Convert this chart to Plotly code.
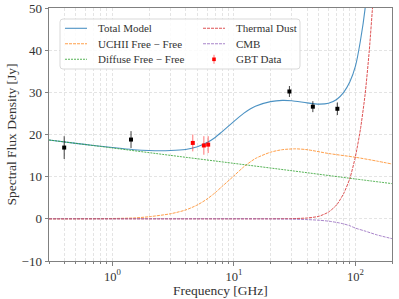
import plotly.graph_objects as go

# ---- data ----
freq_total = [0.3, 0.5, 0.7, 1, 1.5, 2, 3, 4, 5, 6, 7, 8, 10, 12, 15, 20, 25, 30, 40, 50, 60, 70, 80, 90, 100, 110, 120, 130]
s_total = [18.7, 17.9, 17.4, 16.9, 16.4, 16.2, 16.2, 16.45, 17.1, 18.1, 19.3, 20.7, 23.1, 25.0, 26.7, 27.8, 28.1, 28.0, 27.5, 27.2, 27.4, 28.3, 30.0, 32.5, 36.2, 42.3, 49.8, 61.0]

freq_uchii = [0.3, 0.5, 1, 1.5, 2, 3, 4, 5, 6, 7, 8, 10, 12, 15, 20, 25, 32, 40, 60, 100, 150, 200]
s_uchii = [0.0, 0.02, 0.08, 0.2, 0.5, 1.2, 2.1, 3.3, 4.7, 6.2, 7.7, 10.2, 12.3, 14.3, 15.8, 16.4, 16.6, 16.4, 15.5, 14.6, 13.7, 13.0]

freq_diffuse = [0.3, 1, 3, 10, 30, 100, 200]
s_diffuse = [18.7, 16.8, 15.05, 13.15, 11.4, 9.45, 8.35]

freq_dust = [0.3, 10, 20, 30, 40, 50, 60, 70, 80, 90, 100, 110, 120, 130, 140, 150]
s_dust = [0, 0, 0.01, 0.05, 0.2, 0.6, 1.6, 3.3, 6.0, 9.6, 14.8, 21.3, 29.4, 39.9, 52.4, 66.0]

freq_cmb = [0.3, 10, 20, 30, 40, 50, 60, 70, 80, 90, 100, 120, 150, 200]
s_cmb = [0, 0, -0.02, -0.08, -0.18, -0.33, -0.55, -0.85, -1.2, -1.65, -2.2, -2.9, -3.8, -4.7]

gbt_freq = [4.58, 5.65, 6.13]
gbt_flux = [18.0, 17.4, 17.6]
gbt_err = [2.0, 2.2, 2.0]

lit_freq = [0.4, 1.42, 28.6, 44.6, 71.0]
lit_flux = [16.9, 18.8, 30.2, 26.6, 26.1]
lit_err = [2.7, 2.0, 1.3, 1.3, 1.5]

x_tickvals = [1, 10, 100]
x_ticktext = ["10<sup>0</sup>", "10<sup>1</sup>", "10<sup>2</sup>"]
x_minorvals = [0.3, 0.4, 0.5, 0.6, 0.7, 0.8, 0.9, 2, 3, 4, 5, 6, 7, 8, 9,
               20, 30, 40, 50, 60, 70, 80, 90, 200]
y_tickvals = [-10, 0, 10, 20, 30, 40, 50]

legend_names = ["Total Model", "UCHII Free \u2212 Free", "Diffuse Free \u2212 Free",
                "Thermal Dust", "CMB", "GBT Data"]

FONT = "Liberation Serif"
TXT = "#333333"
GRID = "#e4e4e4"
C_TOTAL = "rgba(31,119,180,0.8)"
C_UCHII = "rgba(255,127,14,0.75)"
C_DIFF = "rgba(44,160,44,0.8)"
C_DUST = "rgba(214,39,40,0.8)"
C_CMB = "rgba(148,103,189,0.8)"

W, H = 399, 299
ML, MR, MT, MB = 49, 7, 8, 38
PW, PH = W - ML - MR, H - MT - MB


def px(x):
    return (x - ML) / PW


def py(y):
    return (H - MB - y) / PH


fig = go.Figure()
line_kw = dict(mode="lines", line_shape="spline", hoverinfo="skip", showlegend=False)

fig.add_trace(go.Scatter(x=freq_total, y=s_total, line=dict(color=C_TOTAL, width=1.1, smoothing=0.7), **line_kw))
fig.add_trace(go.Scatter(x=freq_uchii, y=s_uchii, line=dict(color=C_UCHII, width=1, dash="3px,1px", smoothing=0.7), **line_kw))
fig.add_trace(go.Scatter(x=freq_diffuse, y=s_diffuse, line=dict(color=C_DIFF, width=1, dash="2px,1px", smoothing=0.7), **line_kw))
fig.add_trace(go.Scatter(x=freq_dust, y=s_dust, line=dict(color=C_DUST, width=1, dash="3px,1px", smoothing=0.6), **line_kw))
fig.add_trace(go.Scatter(x=freq_cmb, y=s_cmb, line=dict(color=C_CMB, width=1, dash="3px,1px", smoothing=0.7), **line_kw))
fig.add_trace(go.Scatter(x=lit_freq, y=lit_flux, mode="markers", showlegend=False, hoverinfo="skip",
                         marker=dict(color="black", size=4, symbol="square"),
                         error_y=dict(type="data", array=lit_err, color="rgba(0,0,0,0.75)", thickness=1, width=0)))
fig.add_trace(go.Scatter(x=gbt_freq, y=gbt_flux, mode="markers", showlegend=False, hoverinfo="skip",
                         marker=dict(color="red", size=4, symbol="square"),
                         error_y=dict(type="data", array=gbt_err, color="rgba(255,0,0,0.55)", thickness=1, width=0)))

axis_common = dict(showline=True, linecolor="#808080", linewidth=1, mirror=True,
                   ticks="outside", ticklen=3.5, tickcolor="#808080", automargin=False,
                   showgrid=True, gridcolor=GRID, gridwidth=0.8, griddash="3px,2px",
                   zeroline=False, tickfont=dict(family=FONT, size=13, color=TXT))

fig.update_xaxes(type="log", range=[-0.523, 2.301], tickvals=x_tickvals, ticktext=x_ticktext,
                 ticklabelstandoff=0, tickfont=dict(family=FONT, size=12.5, color=TXT),
                 minor=dict(tickmode="array", tickvals=x_minorvals, showgrid=True, gridcolor=GRID,
                            gridwidth=0.8, griddash="3px,2px", ticks="outside", ticklen=2, tickcolor="#808080"),
                 **{k: v for k, v in axis_common.items() if k != "tickfont"})
fig.update_yaxes(range=[-10, 50], tickvals=y_tickvals, **axis_common)

# ---- legend box (matplotlib style, two columns) ----
bx0, bx1, by0, by1 = px(60), px(300), py(69), py(19)
rx, ry = 3 / PW, 3 / PH
box_path = (f"M {bx0+rx},{by1} L {bx1-rx},{by1} Q {bx1},{by1} {bx1},{by1-ry} "
            f"L {bx1},{by0+ry} Q {bx1},{by0} {bx1-rx},{by0} L {bx0+rx},{by0} "
            f"Q {bx0},{by0} {bx0},{by0+ry} L {bx0},{by1-ry} Q {bx0},{by1} {bx0+rx},{by1} Z")
shapes = [dict(type="path", xref="paper", yref="paper", path=box_path,
               line=dict(color="#d9d9d9", width=1), fillcolor="rgba(255,255,255,0.85)", layer="above")]

row_y = [28.3, 43.7, 59.3]
col_line = [(65, 87), (203, 225)]
col_text = [96, 234]
styles = [(C_TOTAL, "solid"), (C_UCHII, "3px,1px"), (C_DIFF, "2px,1px"),
          (C_DUST, "3px,1px"), (C_CMB, "3px,1px")]
annotations = []
for i, name in enumerate(legend_names):
    col, row = divmod(i, 3)
    yy = row_y[row]
    if i < 5:
        c, d = styles[i]
        shapes.append(dict(type="line", xref="paper", yref="paper",
                           x0=px(col_line[col][0]), x1=px(col_line[col][1]), y0=py(yy), y1=py(yy),
                           line=dict(color=c, width=1.1, dash=d), layer="above"))
    else:
        xm = (col_line[col][0] + col_line[col][1]) / 2
        shapes.append(dict(type="line", xref="paper", yref="paper", x0=px(xm), x1=px(xm),
                           y0=py(yy + 4.5), y1=py(yy - 4.5),
                           line=dict(color="rgba(255,0,0,0.55)", width=1), layer="above"))
        shapes.append(dict(type="rect", xref="paper", yref="paper", x0=px(xm - 1.8), x1=px(xm + 1.8),
                           y0=py(yy + 1.8), y1=py(yy - 1.8), line=dict(width=0), fillcolor="red", layer="above"))
    annotations.append(dict(text=name, xref="paper", yref="paper", x=px(col_text[col]), y=py(yy),
                            xanchor="left", yanchor="middle", showarrow=False,
                            font=dict(family=FONT, size=11, color=TXT)))

annotations += [
    dict(text="Frequency [GHz]", xref="paper", yref="paper", x=0.5, y=0, yshift=-29,
         xanchor="center", yanchor="middle", showarrow=False, font=dict(family=FONT, size=13.5, color=TXT)),
    dict(text="Spectral Flux Density [Jy]", xref="paper", yref="paper", x=0, y=0.5, xshift=-38,
         xanchor="center", yanchor="middle", textangle=-90, showarrow=False,
         font=dict(family=FONT, size=13.5, color=TXT)),
]

fig.update_layout(
    width=W, height=H,
    margin=dict(l=ML, r=MR, t=MT, b=MB),
    paper_bgcolor="white", plot_bgcolor="white",
    showlegend=False,
    shapes=shapes,
    annotations=annotations,
)

fig.write_html("out.html", config={"displayModeBar": False},
               post_script="document.body.style.margin='0';")
